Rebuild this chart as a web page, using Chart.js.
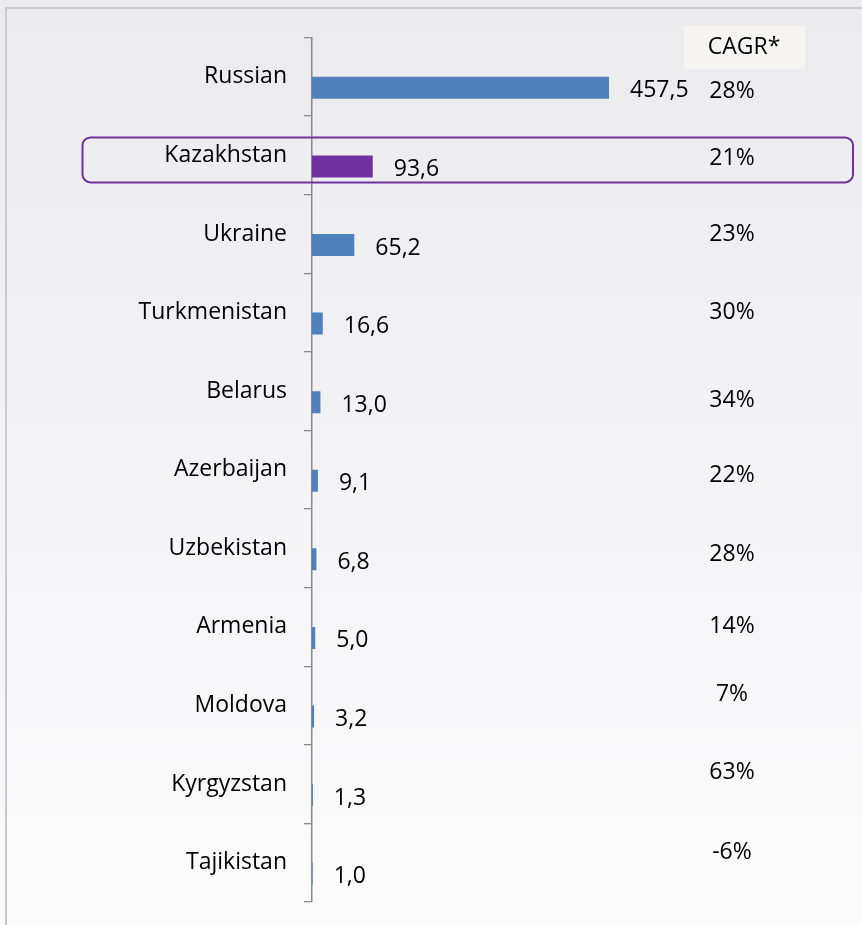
<!DOCTYPE html>
<html>
<head>
<meta charset="utf-8">
<title>CIS markets</title>
<script src="https://cdn.jsdelivr.net/npm/chart.js@4.4.1/dist/chart.umd.min.js"></script>
<style>
  html, body { margin: 0; padding: 0; background: #f3f3f5; }
  #chart { display: block; }
</style>
</head>
<body>
<canvas id="chart" width="862" height="925"></canvas>
<script>
// market size by country and growth rate
var countries = ['Russian', 'Kazakhstan', 'Ukraine', 'Turkmenistan', 'Belarus', 'Azerbaijan',
                 'Uzbekistan', 'Armenia', 'Moldova', 'Kyrgyzstan', 'Tajikistan'];
var sizes = [457.5, 93.6, 65.2, 16.6, 13.0, 9.1, 6.8, 5.0, 3.2, 1.3, 1.0];
var cagr = ['28%', '21%', '23%', '30%', '34%', '22%', '28%', '14%', '7%', '63%', '-6%'];
var highlighted = 'Kazakhstan';

var FONT = '"Open Sans", "Noto Sans", sans-serif';
var BLUE = '#4f81bd';
var PURPLE = '#7030a0';

var barColors = countries.map(function(c) {
    return c === highlighted ? PURPLE : BLUE;
});

// backdrop + outer frame
var backdrop = {
    id: 'backdrop',
    beforeDraw: function(chart) {
        var ctx = chart.ctx;
        var g = ctx.createLinearGradient(0, 0, 0, chart.height);
        g.addColorStop(0, '#ebebee');
        g.addColorStop(1, '#fbfbfc');
        ctx.save();
        ctx.fillStyle = g;
        ctx.fillRect(0, 0, chart.width, chart.height);
        ctx.strokeStyle = '#c9c9cb';
        ctx.lineWidth = 2;
        ctx.beginPath();
        ctx.moveTo(6, chart.height);
        ctx.lineTo(6, 8);
        ctx.lineTo(chart.width, 8);
        ctx.stroke();
        ctx.restore();
    }
};

// value labels next to bars, CAGR column and the highlight frame
var annotations = {
    id: 'annotations',
    afterDraw: function(chart) {
        var ctx = chart.ctx;
        var yScale = chart.scales.y;
        var bars = chart.getDatasetMeta(1).data;
        var nudge = [15, 3, 0, 0, 9, 6, 6, 0, -11, -12, -10];
        ctx.save();

        // highlight frame
        var hi = countries.indexOf(highlighted);
        if (hi >= 0) {
            var yc = yScale.getPixelForValue(hi);
            ctx.strokeStyle = PURPLE;
            ctx.lineWidth = 2;
            ctx.beginPath();
            ctx.roundRect(82.5, yc - 18, 770.5, 45, 8);
            ctx.stroke();
        }

        ctx.fillStyle = '#000';
        ctx.font = '23px ' + FONT;
        ctx.textBaseline = 'middle';

        ctx.textAlign = 'left';
        bars.forEach(function(bar, i) {
            var txt = sizes[i].toFixed(1).replace('.', ',');
            ctx.fillText(txt, bar.x + 21, bar.y + 3);
        });

        ctx.textAlign = 'center';
        cagr.forEach(function(txt, i) {
            ctx.fillText(txt, 732, yScale.getPixelForValue(i) + nudge[i]);
        });

        // column header
        ctx.fillStyle = '#f5f4f0';
        ctx.fillRect(684, 26, 121, 43);
        ctx.fillStyle = '#000';
        ctx.fillText('CAGR*', 744, 47);
        ctx.restore();
    }
};

var grafico = new Chart(document.getElementById('chart'), {
    type: 'bar',
    data: {
        labels: countries,
        datasets: [{
            label: '',
            data: countries.map(function() { return null; })
        }, {
            label: 'Size',
            data: sizes,
            backgroundColor: barColors,
            borderWidth: 0
        }]
    },
    options: {
        indexAxis: 'y',
        responsive: false,
        animation: false,
        categoryPercentage: 0.56,
        barPercentage: 1,
        layout: { padding: { left: 0, right: 160.5, top: 37.5, bottom: 23 } },
        plugins: {
            legend: { display: false },
            tooltip: { enabled: false }
        },
        scales: {
            x: {
                display: false,
                min: 0,
                max: 600
            },
            y: {
                afterFit: function(scale) {
                    scale.width = 312;
                    scale.paddingTop = 0;
                    scale.paddingBottom = 0;
                },
                grid: {
                    offset: true,
                    drawOnChartArea: false,
                    drawTicks: true,
                    tickLength: 8,
                    color: '#8a8a8a',
                    lineWidth: 1.3
                },
                border: { display: true, color: '#8a8a8a', width: 1.5 },
                ticks: {
                    padding: 17,
                    color: '#000',
                    font: { family: FONT, size: 23 }
                }
            }
        }
    },
    plugins: [backdrop, annotations]
});
</script>
</body>
</html>
